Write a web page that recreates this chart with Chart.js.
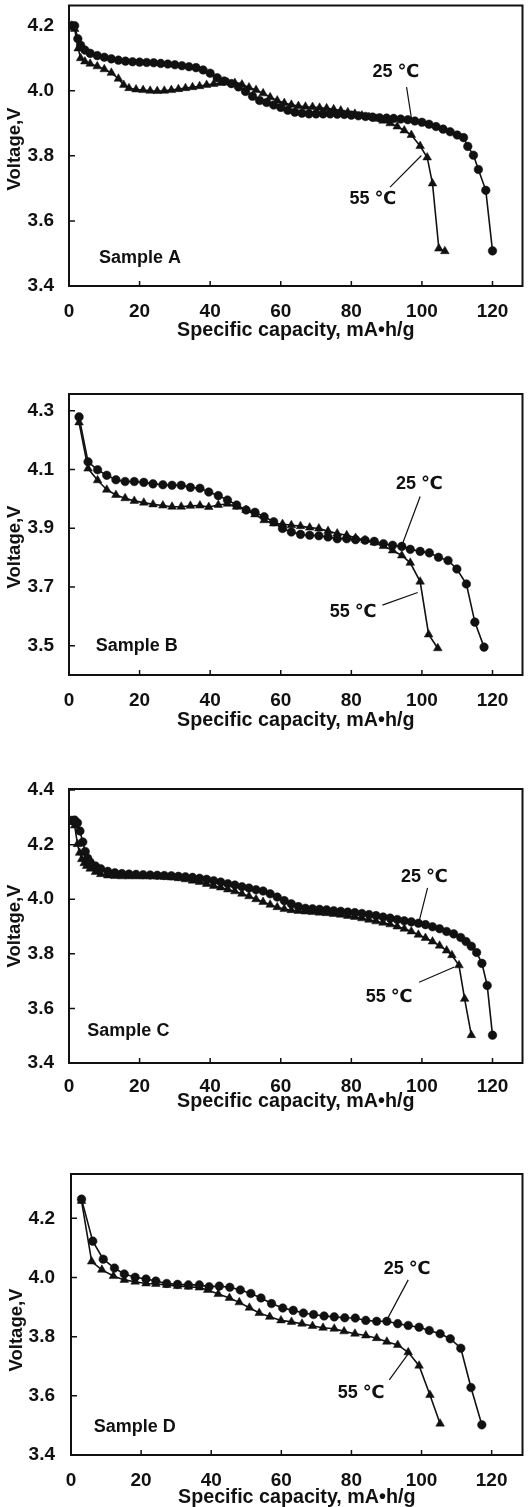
<!DOCTYPE html>
<html>
<head>
<meta charset="utf-8">
<script src="https://cdn.jsdelivr.net/npm/chart.js@4.4.1/dist/chart.umd.min.js"></script>
<style>
  html, body { margin: 0; padding: 0; background: #fff; overflow: hidden; }
  body { width: 528px; height: 1507px; position: relative; }
  canvas { position: absolute; left: 0; }
</style>
</head>
<body>
<canvas id="chartA"></canvas>
<canvas id="chartB"></canvas>
<canvas id="chartC"></canvas>
<canvas id="chartD"></canvas>
<script>
// tick labels
const xTicks = [0, 20, 40, 60, 80, 100, 120];
const yTicksA = [3.4, 3.6, 3.8, 4.0, 4.2];
const yTicksB = [3.5, 3.7, 3.9, 4.1, 4.3];
const yTicksC = [3.4, 3.6, 3.8, 4.0, 4.2, 4.4];
const yTicksD = [3.4, 3.6, 3.8, 4.0, 4.2];

// Sample A
const capA25 = [0.8, 1.6, 2.5, 3.3, 4.5, 6, 8, 10, 12, 14, 16, 18, 20, 22, 24, 26, 28, 30, 32, 34, 36, 38, 40, 42, 44, 46, 48, 50, 52, 54, 56, 58, 60, 62, 64, 66, 68, 70, 72, 74, 76, 78, 80, 82, 84, 86, 88, 90, 92, 94, 96, 98, 100, 102, 104, 106, 108, 110, 111.8, 113, 114.6, 116, 118.1, 120];
const voltA25 = [4.20, 4.20, 4.16, 4.14, 4.125, 4.115, 4.108, 4.103, 4.098, 4.094, 4.091, 4.089, 4.088, 4.087, 4.086, 4.084, 4.082, 4.080, 4.077, 4.074, 4.071, 4.064, 4.054, 4.040, 4.030, 4.022, 4.012, 3.998, 3.983, 3.970, 3.964, 3.956, 3.949, 3.940, 3.934, 3.931, 3.929, 3.929, 3.929, 3.929, 3.928, 3.927, 3.925, 3.923, 3.921, 3.919, 3.917, 3.916, 3.915, 3.913, 3.911, 3.907, 3.903, 3.897, 3.890, 3.882, 3.874, 3.864, 3.856, 3.829, 3.802, 3.758, 3.694, 3.508];
const capA55 = [0.8, 1.6, 2.6, 3.3, 4.5, 6, 8, 10, 12, 14, 15.5, 17, 19, 21, 23, 25, 27, 29, 31, 33, 35, 37, 39, 41, 43, 45, 47, 49, 51, 53, 55, 57, 59, 61, 63, 65, 67, 69, 71, 73, 75, 77, 79, 81, 83, 85, 87, 89, 91, 93, 95, 97, 99.5, 101.5, 103, 104.8, 106.5];
const voltA55 = [4.20, 4.19, 4.13, 4.10, 4.09, 4.083, 4.075, 4.066, 4.055, 4.037, 4.018, 4.008, 4.004, 4.002, 4.000, 3.999, 4.000, 4.002, 4.005, 4.008, 4.011, 4.014, 4.018, 4.021, 4.024, 4.025, 4.024, 4.019, 4.010, 4.002, 3.992, 3.980, 3.970, 3.962, 3.957, 3.953, 3.951, 3.950, 3.948, 3.946, 3.943, 3.939, 3.934, 3.929, 3.924, 3.919, 3.914, 3.908, 3.900, 3.890, 3.878, 3.864, 3.830, 3.795, 3.715, 3.515, 3.507];

// Sample B
const capB25 = [2.85, 5.4, 8.1, 10.7, 13.3, 15.9, 18.5, 21.2, 23.8, 26.6, 29.2, 31.8, 34.4, 37.1, 39.6, 42.3, 44.9, 47.5, 50.2, 52.7, 55.3, 58, 60.5, 63, 65.6, 68.2, 70.8, 73.4, 76, 78.7, 81.2, 83.9, 86.5, 89.1, 91.7, 94.3, 96.7, 99.5, 102.1, 104.7, 107.4, 109.9, 112.6, 115, 117.6];
const voltB25 = [4.279, 4.126, 4.099, 4.08, 4.065, 4.059, 4.059, 4.056, 4.051, 4.048, 4.046, 4.046, 4.039, 4.036, 4.023, 4.011, 3.996, 3.979, 3.962, 3.954, 3.939, 3.922, 3.899, 3.887, 3.879, 3.876, 3.874, 3.87, 3.864, 3.864, 3.861, 3.859, 3.855, 3.847, 3.842, 3.838, 3.828, 3.821, 3.816, 3.801, 3.79, 3.761, 3.71, 3.58, 3.495];
const capB55 = [2.85, 5.4, 8.1, 10.7, 13.3, 15.9, 18.5, 21.2, 23.8, 26.6, 29.2, 31.8, 34.4, 37.1, 39.6, 42.3, 44.9, 47.5, 50.2, 52.7, 55.3, 58, 60.5, 63, 65.6, 68.2, 70.8, 73.4, 76, 78.7, 81.2, 83.9, 86.5, 89.1, 91.7, 94.3, 96.7, 99.5, 101.9, 104.5];
const voltB55 = [4.26, 4.103, 4.063, 4.031, 4.013, 4.002, 3.993, 3.987, 3.981, 3.977, 3.973, 3.973, 3.976, 3.977, 3.972, 3.979, 3.983, 3.973, 3.962, 3.947, 3.927, 3.916, 3.914, 3.91, 3.907, 3.902, 3.899, 3.89, 3.882, 3.876, 3.867, 3.859, 3.851, 3.839, 3.824, 3.807, 3.782, 3.718, 3.538, 3.491];

// Sample C
const capC25 = [0.8, 1.6, 2.4, 3.1, 3.9, 4.6, 5.3, 6, 7.5, 9, 11, 13, 15, 17, 19, 21, 23, 25, 27, 29, 31, 33, 35, 37, 39, 41, 43, 45, 47, 49, 51, 53, 55, 57, 59, 61, 63, 65, 67, 69, 71, 73, 75, 77, 79, 81, 83, 85, 87, 89, 91, 93, 95, 97, 99, 101, 103, 105, 107, 109, 111, 112.5, 114, 115.5, 117, 118.5, 120];
const voltC25 = [4.289, 4.29, 4.28, 4.25, 4.21, 4.175, 4.15, 4.135, 4.122, 4.112, 4.102, 4.097, 4.094, 4.092, 4.091, 4.090, 4.089, 4.088, 4.087, 4.086, 4.084, 4.082, 4.080, 4.077, 4.073, 4.068, 4.063, 4.057, 4.052, 4.046, 4.041, 4.035, 4.030, 4.020, 4.008, 3.995, 3.983, 3.973, 3.967, 3.965, 3.963, 3.961, 3.958, 3.956, 3.953, 3.951, 3.948, 3.944, 3.940, 3.935, 3.931, 3.926, 3.921, 3.917, 3.912, 3.907, 3.899, 3.892, 3.882, 3.873, 3.860, 3.845, 3.828, 3.805, 3.765, 3.684, 3.502];
const capC55 = [0.8, 1.6, 2.4, 3, 3.6, 4.3, 5, 6, 7.5, 9, 11, 13, 15, 17, 19, 21, 23, 25, 27, 29, 31, 33, 35, 37, 39, 41, 43, 45, 47, 49, 51, 53, 55, 57, 59, 61, 63, 65, 67, 69, 71, 73, 75, 77, 79, 81, 83, 85, 87, 89, 91, 93, 95, 97, 99, 101, 103, 105, 107, 108.5, 110.5, 112.1, 114];
const voltC55 = [4.283, 4.27, 4.202, 4.17, 4.147, 4.132, 4.122, 4.112, 4.100, 4.092, 4.087, 4.085, 4.084, 4.084, 4.084, 4.084, 4.084, 4.083, 4.082, 4.080, 4.077, 4.073, 4.068, 4.063, 4.056, 4.049, 4.043, 4.036, 4.029, 4.020, 4.011, 4.000, 3.990, 3.980, 3.971, 3.964, 3.960, 3.957, 3.955, 3.953, 3.951, 3.949, 3.946, 3.943, 3.939, 3.935, 3.930, 3.925, 3.919, 3.914, 3.908, 3.900, 3.892, 3.882, 3.870, 3.858, 3.845, 3.830, 3.812, 3.795, 3.758, 3.635, 3.502];

// Sample D
const capD25 = [3, 6.2, 9.2, 12.4, 15.2, 18.3, 21.4, 24.2, 27.3, 30.4, 33.5, 36.6, 39.4, 42.3, 45.3, 48.3, 51.3, 54.2, 57.2, 60.4, 63.4, 66.3, 69.2, 72.2, 75.1, 78.1, 81.1, 84.1, 87.2, 90.1, 93.2, 96.2, 99.3, 102.2, 105.3, 108.2, 111.2, 114.1, 117.2];
const voltD25 = [4.265, 4.123, 4.062, 4.032, 4.012, 4.001, 3.995, 3.988, 3.98, 3.977, 3.975, 3.975, 3.969, 3.971, 3.967, 3.958, 3.946, 3.931, 3.912, 3.897, 3.889, 3.88, 3.875, 3.87, 3.867, 3.864, 3.863, 3.855, 3.852, 3.852, 3.844, 3.838, 3.832, 3.821, 3.81, 3.793, 3.761, 3.628, 3.502];
const capD55 = [3, 5.9, 8.8, 12.1, 15.2, 18.3, 21.4, 24.2, 27.3, 30.4, 33.5, 36.6, 39, 42, 45.2, 48, 50.9, 53.7, 56.7, 59.9, 62.9, 65.9, 68.9, 71.9, 75.1, 77.9, 81, 84.1, 87.2, 90.1, 93.2, 96.2, 99.3, 102.4, 105.3];
const voltD55 = [4.259, 4.054, 4.026, 4.005, 3.992, 3.986, 3.98, 3.978, 3.975, 3.971, 3.969, 3.966, 3.958, 3.944, 3.931, 3.916, 3.898, 3.88, 3.867, 3.855, 3.85, 3.844, 3.836, 3.83, 3.827, 3.818, 3.81, 3.804, 3.795, 3.783, 3.772, 3.747, 3.702, 3.603, 3.506];

const FONT = "'Liberation Sans', Arial, 'DejaVu Sans', sans-serif";
const INK = "#111";

function pts(xs, ys) {
  return xs.map((x, i) => ({ x: x, y: ys[i] }));
}

// frame, inward ticks, leader lines, text labels, y title
const frameAndNotes = {
  id: "frameAndNotes",
  afterDraw(chart, args, o) {
    const ctx = chart.ctx, a = chart.chartArea;
    const sx = chart.scales.x, sy = chart.scales.y;
    ctx.save();
    ctx.strokeStyle = INK;
    ctx.lineWidth = 2;
    ctx.strokeRect(a.left, a.top, a.right - a.left, a.bottom - a.top);

    ctx.lineWidth = 1.5;
    ctx.beginPath();
    sx.ticks.forEach(t => {
      const p = sx.getPixelForValue(t.value);
      ctx.moveTo(p, a.bottom);
      ctx.lineTo(p, a.bottom - 5);
    });
    sy.ticks.forEach(t => {
      const p = sy.getPixelForValue(t.value);
      ctx.moveTo(a.left, p);
      ctx.lineTo(a.left + 6, p);
    });
    ctx.stroke();

    ctx.lineWidth = 1.2;
    ctx.beginPath();
    o.leaders.forEach(l => {
      ctx.moveTo(sx.getPixelForValue(l[0]), sy.getPixelForValue(l[1]));
      ctx.lineTo(sx.getPixelForValue(l[2]), sy.getPixelForValue(l[3]));
    });
    ctx.stroke();

    ctx.fillStyle = INK;
    ctx.font = "bold 18px " + FONT;
    ctx.textBaseline = "middle";
    o.labels.forEach(l => {
      ctx.textAlign = l.align || "center";
      ctx.fillText(l.text, sx.getPixelForValue(l.x), sy.getPixelForValue(l.y));
    });

    ctx.font = "bold 18.5px " + FONT;
    ctx.translate(o.yTitle[0], o.yTitle[1]);
    ctx.rotate(-Math.PI / 2);
    ctx.textAlign = "center";
    ctx.fillText("Voltage,V", 0, 0);
    ctx.restore();
  }
};

function makePanel(p) {
  const el = document.getElementById(p.id);
  const h = p.padTop + p.areaH + p.axisH;
  el.width = 528;
  el.height = h;
  el.style.width = "528px";
  el.style.height = h + "px";
  el.style.top = p.top + "px";

  new Chart(el.getContext("2d"), {
    type: "scatter",
    data: {
      datasets: [
        {
          label: "25 ℃",
          data: pts(p.x25, p.y25),
          showLine: true,
          borderColor: INK,
          backgroundColor: INK,
          borderWidth: 1.6,
          pointStyle: "circle",
          pointRadius: 4.3,
          pointBorderWidth: 0.5,
        },
        {
          label: "55 ℃",
          data: pts(p.x55, p.y55),
          showLine: true,
          borderColor: INK,
          backgroundColor: INK,
          borderWidth: 1.6,
          pointStyle: "triangle",
          pointRadius: 5,
          pointBorderWidth: 0.5,
        },
      ],
    },
    options: {
      responsive: false,
      animation: false,
      devicePixelRatio: 1,
      layout: { padding: { top: p.padTop, right: 1, left: 0, bottom: 0 } },
      plugins: {
        legend: { display: false },
        tooltip: { enabled: false },
        frameAndNotes: p.notes,
      },
      scales: {
        x: {
          type: "linear",
          min: 0,
          max: p.xMax,
          grid: { display: false },
          border: { display: false },
          afterBuildTicks: s => { s.ticks = xTicks.map(v => ({ value: v })); },
          afterFit: s => { s.height = p.axisH; s.paddingLeft = 0; s.paddingRight = 0; },
          ticks: {
            color: INK,
            padding: p.xTickPad,
            maxRotation: 0,
            font: { size: 19, family: FONT, weight: "bold" },
            callback: v => String(v),
          },
          title: {
            display: true,
            text: "Specific capacity, mA•h/g",
            color: INK,
            padding: 0,
            font: { size: 19.7, family: FONT, weight: "bold", lineHeight: 1 },
          },
        },
        y: {
          type: "linear",
          min: p.yMin,
          max: p.yMax,
          grid: { display: false },
          border: { display: false },
          afterBuildTicks: s => { s.ticks = p.yTicks.map(v => ({ value: v })); },
          afterFit: s => { s.width = p.left; s.paddingTop = 0; s.paddingBottom = 0; },
          ticks: {
            color: INK,
            padding: p.yTickPad,
            font: { size: 19, family: FONT, weight: "bold" },
            callback: v => Number(v).toFixed(1),
          },
        },
      },
    },
    plugins: [frameAndNotes],
  });
}

makePanel({
  id: "chartA", top: 0, padTop: 5, areaH: 281, axisH: 54,
  left: 69, xMax: 128.5, yMin: 3.4, yMax: 4.262, yTicks: yTicksA,
  xTickPad: 6, yTickPad: 7,
  x25: capA25, y25: voltA25, x55: capA55, y55: voltA55,
  notes: {
    yTitle: [15, 149],
    leaders: [[95.65, 4.011, 97.05, 3.914], [90.97, 3.704, 99.86, 3.801]],
    labels: [
      { text: "25 ℃", x: 92.6, y: 4.057 },
      { text: "55 ℃", x: 86.1, y: 3.666 },
      { text: "Sample A", x: 8.5, y: 3.485, align: "left" },
    ],
  },
});

makePanel({
  id: "chartB", top: 380, padTop: 14, areaH: 281, axisH: 55,
  left: 69, xMax: 128.5, yMin: 3.4, yMax: 4.357, yTicks: yTicksB,
  xTickPad: 6, yTickPad: 7,
  x25: capB25, y25: voltB25, x55: capB55, y55: voltB55,
  notes: {
    yTitle: [15, 167],
    leaders: [[99.5, 4.008, 94.5, 3.847], [88.8, 3.638, 98.8, 3.681]],
    labels: [
      { text: "25 ℃", x: 99.3, y: 4.05 },
      { text: "55 ℃", x: 80.5, y: 3.616 },
      { text: "Sample B", x: 7.6, y: 3.497, align: "left" },
    ],
  },
});

makePanel({
  id: "chartC", top: 775, padTop: 14, areaH: 274, axisH: 48,
  left: 69, xMax: 128.5, yMin: 3.4, yMax: 4.404, yTicks: yTicksC,
  xTickPad: 4, yTickPad: 7,
  x25: capC25, y25: voltC25, x55: capC55, y55: voltC55,
  notes: {
    yTitle: [15, 151],
    leaders: [[101.6, 4.042, 99.2, 3.919], [99.2, 3.696, 109.2, 3.752]],
    labels: [
      { text: "25 ℃", x: 100.7, y: 4.081 },
      { text: "55 ℃", x: 90.7, y: 3.641 },
      { text: "Sample C", x: 5.2, y: 3.517, align: "left" },
    ],
  },
});

makePanel({
  id: "chartD", top: 1160, padTop: 14, areaH: 281, axisH: 52,
  left: 71, xMax: 128.8, yMin: 3.4, yMax: 4.35, yTicks: yTicksD,
  xTickPad: 6, yTickPad: 8,
  x25: capD25, y25: voltD25, x55: capD55, y55: voltD55,
  notes: {
    yTitle: [17, 170],
    leaders: [[96.2, 3.992, 90.3, 3.861], [90.8, 3.654, 96.5, 3.747]],
    labels: [
      { text: "25 ℃", x: 95.9, y: 4.03 },
      { text: "55 ℃", x: 82.8, y: 3.608 },
      { text: "Sample D", x: 6.5, y: 3.494, align: "left" },
    ],
  },
});
</script>
</body>
</html>
